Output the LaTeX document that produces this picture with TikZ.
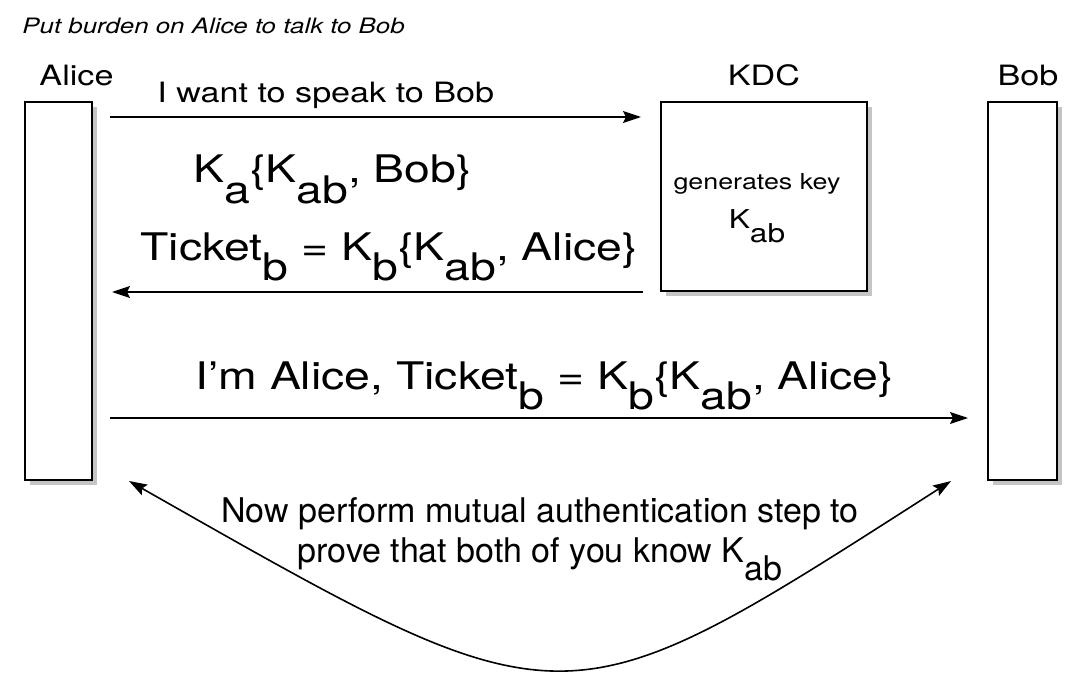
\documentclass[tikz,border=0pt]{standalone}
\usepackage{fontspec}
\setmainfont{TeX Gyre Heros}[FakeStretch=1.22]
\newfontfamily\narrowfont{TeX Gyre Heros}[FakeStretch=1.0]
\usepackage{graphicx}
\usepackage{tikz}
\usetikzlibrary{arrows.meta,calc,positioning,shadows}
% lowered index, same size as the text
\newcommand{\lo}[1]{\raisebox{-0.55em}{#1}}
\tikzset{
    %Define standard arrow tip
    >={Stealth[length=9pt,width=6pt,inset=1.5pt]},
    %Define style for the party boxes
    party/.style={
           rectangle,
           draw=black, line width=1pt,
           fill=white,
           drop shadow={shadow xshift=2.5pt, shadow yshift=-2.5pt,
                        fill=black!45, opacity=.5},
           inner sep=0pt},
    partylabel/.style={
           font=\fontsize{14}{16}\selectfont,
           inner sep=0pt},
    msg/.style={
           font=\fontsize{19}{22}\selectfont,
           inner sep=0pt,
           anchor=base west},
    % Define arrow style
    pil/.style={
           ->,
           line width=.8pt,
           shorten <=8.5pt,
           shorten >=9.5pt}
}
\begin{document}
\begin{tikzpicture}[x=0.5pt,y=-0.5pt]
\useasboundingbox (0,0) rectangle (1080,684);
\node[font=\itshape\fontsize{10.6}{12}\selectfont, inner sep=0pt, anchor=base west] (title) at (22,34) {Put burden on Alice to talk to Bob};
% parties
\node[party, minimum width=33.5pt, minimum height=189pt](alice) at (58.5,291) {};
\node[party, minimum width=103pt, minimum height=94.5pt](kdc) at (764,196.5) {};
\node[party, minimum width=34.5pt, minimum height=189pt](bob) at (1022.5,291) {};
\node[partylabel, above=7.5pt of alice.north, anchor=base, xshift=9pt](alicelabel){Alice};
\node[partylabel, above=7.5pt of kdc.north, anchor=base](kdclabel){KDC};
\node[partylabel, above=7.5pt of bob.north, anchor=base, xshift=2.75pt](boblabel){Bob};
\node[font=\fontsize{11}{13}\selectfont, inner sep=0pt, anchor=base](gen) at (757,190) {generates key};
\node[font=\fontsize{13}{15}\selectfont, inner sep=0pt, below=19pt of gen.base, anchor=base](kab){K\lo{ab}};
% messages
\node[msg, font=\fontsize{14}{16}\selectfont](want) at (157,103) {I want to speak to Bob};
\node[msg](kakab) at (193,183) {K\lo{a}\{K\lo{ab}, Bob\}};
\node[msg](ticket) at (140,260) {Ticket\lo{b} = K\lo{b}\{K\lo{ab}, Alice\}};
\node[msg](imalice) at (195,389) {I'm Alice, Ticket\lo{b} = K\lo{b}\{K\lo{ab}, Alice\}};
\draw[pil] ($(alice.north east)+(0,16)$) -- ($(kdc.north west)+(0,16)$);
\draw[pil] (kdc.south west) -- (alice.east |- kdc.south west);
\draw[pil] ($(alice.south east)+(0,-63)$) -- ($(bob.south west)+(0,-63)$);
% mutual authentication
\draw[pil, <->, shorten <=0pt, shorten >=0pt] ($(bob.south west)+(-36,0)$) .. controls +(-392,251) and +(442,251) .. ($(alice.south east)+(36,0)$);
\node[font=\narrowfont\fontsize{17}{20}\selectfont, align=center, inner sep=0pt, anchor=north](mutual) at (540,497) {Now perform mutual authentication step to\\prove that both of you know K\lo{ab}};
\end{tikzpicture}
\end{document}
